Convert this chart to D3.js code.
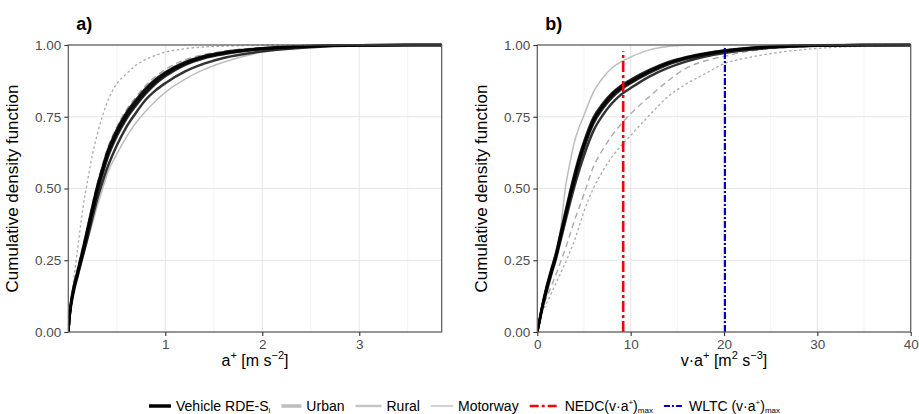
<!DOCTYPE html>
<html>
<head>
<meta charset="utf-8">
<script src="https://cdn.jsdelivr.net/npm/d3@7"></script>
<style>
  body { margin: 0; background: #fff; }
  svg { font-family: "Liberation Sans", Arial, Helvetica, sans-serif; }
</style>
</head>
<body>
<div id="chart"></div>
<script>
// --- datos: panel a (aceleración positiva) ---
const xA = [0, 0.02, 0.05, 0.1, 0.15, 0.2, 0.25, 0.3, 0.35, 0.4, 0.5, 0.6, 0.7, 0.8, 0.9, 1.0, 1.2, 1.4, 1.6, 1.8, 2.0, 2.5, 3.0, 3.85];
const vehA1 = [0, 0.08, 0.145, 0.215, 0.285, 0.36, 0.435, 0.505, 0.565, 0.62, 0.70, 0.76, 0.805, 0.845, 0.877, 0.902, 0.938, 0.96, 0.973, 0.982, 0.988, 0.996, 0.999, 1];
const vehA2 = [0, 0.078, 0.14, 0.21, 0.28, 0.352, 0.425, 0.495, 0.555, 0.61, 0.69, 0.75, 0.797, 0.837, 0.87, 0.896, 0.933, 0.956, 0.97, 0.98, 0.987, 0.996, 0.999, 1];
const vehA3 = [0, 0.076, 0.138, 0.205, 0.274, 0.345, 0.418, 0.487, 0.547, 0.602, 0.682, 0.743, 0.79, 0.831, 0.865, 0.891, 0.93, 0.954, 0.968, 0.978, 0.986, 0.995, 0.999, 1];
const vehA4 = [0, 0.08, 0.147, 0.218, 0.29, 0.365, 0.44, 0.51, 0.57, 0.626, 0.705, 0.765, 0.81, 0.85, 0.881, 0.905, 0.94, 0.962, 0.975, 0.983, 0.989, 0.997, 0.999, 1];
const vehA5 = [0, 0.07, 0.13, 0.2, 0.265, 0.33, 0.40, 0.465, 0.52, 0.57, 0.65, 0.715, 0.765, 0.81, 0.842, 0.867, 0.907, 0.935, 0.955, 0.968, 0.978, 0.992, 0.998, 1];
const urbanA = [0, 0.07, 0.13, 0.2, 0.26, 0.32, 0.38, 0.44, 0.495, 0.55, 0.62, 0.68, 0.73, 0.77, 0.805, 0.835, 0.88, 0.915, 0.94, 0.96, 0.975, 0.992, 0.998, 1];
const ruralA = [0, 0.09, 0.16, 0.23, 0.30, 0.37, 0.45, 0.52, 0.58, 0.635, 0.715, 0.775, 0.82, 0.86, 0.89, 0.915, 0.948, 0.967, 0.978, 0.986, 0.991, 0.998, 1, 1];
const motorwayA = [0, 0.1, 0.17, 0.3, 0.43, 0.53, 0.62, 0.69, 0.75, 0.80, 0.865, 0.90, 0.93, 0.95, 0.964, 0.975, 0.987, 0.993, 0.996, 0.998, 1, 1, 1, 1];

// --- datos: panel b (v·a+) ---
const xB = [0, 0.3, 0.6, 1, 1.5, 2, 2.5, 3, 3.5, 4, 4.5, 5, 6, 7, 8, 9, 10, 12, 14, 16, 18, 20, 22, 25, 30, 35, 40];
const vehB1 = [0, 0.05, 0.1, 0.155, 0.215, 0.27, 0.34, 0.41, 0.48, 0.545, 0.605, 0.655, 0.74, 0.79, 0.828, 0.855, 0.875, 0.91, 0.938, 0.957, 0.97, 0.98, 0.987, 0.994, 0.998, 1, 1];
const vehB2 = [0, 0.05, 0.098, 0.152, 0.21, 0.265, 0.333, 0.402, 0.472, 0.536, 0.596, 0.647, 0.732, 0.783, 0.822, 0.85, 0.87, 0.906, 0.935, 0.955, 0.968, 0.978, 0.986, 0.993, 0.998, 1, 1];
const vehB3 = [0, 0.048, 0.096, 0.15, 0.208, 0.262, 0.33, 0.398, 0.467, 0.53, 0.59, 0.641, 0.726, 0.778, 0.817, 0.846, 0.867, 0.903, 0.932, 0.952, 0.966, 0.977, 0.985, 0.993, 0.998, 1, 1];
const vehB4 = [0, 0.052, 0.102, 0.158, 0.218, 0.275, 0.346, 0.417, 0.488, 0.553, 0.612, 0.662, 0.746, 0.795, 0.832, 0.859, 0.879, 0.913, 0.94, 0.958, 0.971, 0.981, 0.988, 0.995, 0.999, 1, 1];
const vehB5 = [0, 0.045, 0.09, 0.14, 0.2, 0.255, 0.32, 0.385, 0.45, 0.51, 0.565, 0.615, 0.70, 0.755, 0.797, 0.828, 0.85, 0.89, 0.92, 0.943, 0.96, 0.972, 0.981, 0.99, 0.997, 0.999, 1];
const urbanB = [0, 0.045, 0.09, 0.14, 0.2, 0.265, 0.36, 0.5, 0.59, 0.665, 0.715, 0.755, 0.835, 0.885, 0.92, 0.942, 0.958, 0.983, 0.995, 0.999, 1, 1, 1, 1, 1, 1, 1];
const ruralB = [0, 0.06, 0.09, 0.12, 0.16, 0.2, 0.245, 0.29, 0.34, 0.39, 0.435, 0.48, 0.575, 0.635, 0.685, 0.725, 0.76, 0.82, 0.875, 0.92, 0.945, 0.96, 0.975, 0.987, 0.996, 1, 1];
const motorwayB = [0, 0.05, 0.075, 0.1, 0.135, 0.17, 0.205, 0.24, 0.28, 0.32, 0.37, 0.42, 0.5, 0.56, 0.61, 0.65, 0.685, 0.755, 0.82, 0.865, 0.9, 0.935, 0.952, 0.97, 0.988, 0.996, 1];

// líneas de referencia del panel b
const refNames = ['NEDC', 'WLTC'];
const refX = [9.2, 20.1];
const refTop = [0.978, 0.99];

const yTicks = [0, 0.25, 0.5, 0.75, 1];
const xTicksA = [1, 2, 3];
const xTicksB = [0, 10, 20, 30, 40];

// estilos por tipo de línea
const styles = {
    vehicle: { stroke: '#000', width: 2.5, dash: null, opacity: 0.8 },
    urban: { stroke: '#bdbdbd', width: 1.5, dash: null, opacity: 1 },
    rural: { stroke: '#ababab', width: 1.4, dash: '6,4', opacity: 1 },
    motorway: { stroke: '#ababab', width: 1.3, dash: '2.5,2.5', opacity: 1 }
};

const W = 919, H = 414;
const svg = d3.select('#chart').append('svg')
    .attr('width', W).attr('height', H);

const plotTop = 45, plotBottom = 332;

function drawPanel(opts) {
    const x = d3.scaleLinear().domain(opts.domain).range([opts.left, opts.right]);
    const y = d3.scaleLinear().domain([0, 1]).range([plotBottom, plotTop]);
    const g = svg.append('g');

    // rejilla
    g.selectAll('.vminor').data(opts.minor).join('line')
        .attr('x1', d => x(d)).attr('x2', d => x(d))
        .attr('y1', plotTop).attr('y2', plotBottom)
        .attr('stroke', '#f0f0f0').attr('stroke-width', 0.8);
    g.selectAll('.vmajor').data(opts.ticks).join('line')
        .attr('x1', d => x(d)).attr('x2', d => x(d))
        .attr('y1', plotTop).attr('y2', plotBottom)
        .attr('stroke', '#e6e6e6').attr('stroke-width', 1);
    g.selectAll('.hmajor').data(yTicks).join('line')
        .attr('x1', opts.left).attr('x2', opts.right)
        .attr('y1', d => y(d)).attr('y2', d => y(d))
        .attr('stroke', '#e6e6e6').attr('stroke-width', 1);

    const line = d3.line()
        .x((d, i) => x(opts.xs[i]))
        .y(d => y(d))
        .curve(d3.curveMonotoneX);

    const clipId = 'clip-' + opts.id;
    svg.append('clipPath').attr('id', clipId).append('rect')
        .attr('x', opts.left).attr('y', plotTop - 2)
        .attr('width', opts.right - opts.left).attr('height', plotBottom - plotTop + 2);
    const lines = g.append('g').attr('clip-path', `url(#${clipId})`);

    opts.series.forEach(s => {
        const st = styles[s.type];
        lines.append('path')
            .datum(s.values)
            .attr('fill', 'none')
            .attr('stroke', st.stroke)
            .attr('stroke-width', st.width)
            .attr('stroke-dasharray', st.dash)
            .attr('stroke-opacity', st.opacity)
            .attr('d', line);
    });

    if (opts.refs) {
        refNames.forEach((name, i) => {
            const isN = name === 'NEDC';
            lines.append('line')
                .attr('x1', x(refX[i])).attr('x2', x(refX[i]))
                .attr('y1', y(0)).attr('y2', y(refTop[i]))
                .attr('stroke', isN ? '#ff0000' : '#0000cc')
                .attr('stroke-width', isN ? 2.6 : 2.2)
                .attr('stroke-dasharray', isN ? '11,3,3,3' : '7,2,2,2');
        });
    }

    // borde del panel
    g.append('rect')
        .attr('x', opts.left).attr('y', plotTop)
        .attr('width', opts.right - opts.left).attr('height', plotBottom - plotTop)
        .attr('fill', 'none').attr('stroke', '#595959').attr('stroke-width', 1.2);

    // ejes
    const ax = g.append('g')
        .attr('transform', `translate(0,${plotBottom})`)
        .call(d3.axisBottom(x).tickValues(opts.ticks).tickFormat(d3.format('d')).tickSize(4).tickPadding(3));
    const ay = g.append('g')
        .attr('transform', `translate(${opts.left},0)`)
        .call(d3.axisLeft(y).tickValues(yTicks).tickFormat(d3.format('.2f')).tickSize(4).tickPadding(3));
    [ax, ay].forEach(a => {
        a.select('.domain').remove();
        a.selectAll('.tick line').attr('stroke', '#333').attr('stroke-width', 1.1);
        a.selectAll('.tick text').attr('fill', '#4d4d4d')
            .attr('font-size', '13.5px').attr('font-family', '"Liberation Sans", Arial, sans-serif');
    });

    // título eje Y
    svg.append('text')
        .attr('transform', `translate(${opts.left - 50},${(plotTop + plotBottom) / 2}) rotate(-90)`)
        .attr('text-anchor', 'middle')
        .attr('font-size', '17px').attr('fill', '#000')
        .text('Cumulative density function');

    // título eje X con superíndices
    const xt = svg.append('text')
        .attr('x', (opts.left + opts.right) / 2).attr('y', 366)
        .attr('text-anchor', 'middle')
        .attr('font-size', '16px').attr('fill', '#000');
    opts.xtitle.forEach(p => {
        xt.append('tspan').attr('dy', p.dy || 0)
            .attr('font-size', p.small ? '11px' : null)
            .text(p.t);
    });

    // etiqueta del panel
    svg.append('text')
        .attr('x', opts.left + 8).attr('y', 30)
        .attr('font-size', '18px').attr('font-weight', 'bold')
        .text(opts.label);
}

drawPanel({
    id: 'a', label: 'a)',
    left: 68.3, right: 441.7, domain: [0, 3.85],
    ticks: xTicksA, minor: [0.5, 1.5, 2.5, 3.5],
    xs: xA,
    series: [
        { type: 'urban', values: urbanA },
        { type: 'rural', values: ruralA },
        { type: 'motorway', values: motorwayA },
        { type: 'vehicle', values: vehA1 },
        { type: 'vehicle', values: vehA2 },
        { type: 'vehicle', values: vehA3 },
        { type: 'vehicle', values: vehA4 },
        { type: 'vehicle', values: vehA5 }
    ],
    xtitle: [
        { t: 'a' }, { t: '+', dy: -7, small: true },
        { t: ' [m s', dy: 7 }, { t: '−2', dy: -7, small: true }, { t: ']', dy: 7 }
    ]
});

drawPanel({
    id: 'b', label: 'b)',
    left: 537.3, right: 910.7, domain: [0, 40],
    ticks: xTicksB, minor: [5, 15, 25, 35],
    xs: xB,
    refs: true,
    series: [
        { type: 'urban', values: urbanB },
        { type: 'rural', values: ruralB },
        { type: 'motorway', values: motorwayB },
        { type: 'vehicle', values: vehB1 },
        { type: 'vehicle', values: vehB2 },
        { type: 'vehicle', values: vehB3 },
        { type: 'vehicle', values: vehB4 },
        { type: 'vehicle', values: vehB5 }
    ],
    xtitle: [
        { t: 'v·a' }, { t: '+', dy: -7, small: true },
        { t: ' [m', dy: 7 }, { t: '2', dy: -7, small: true },
        { t: ' s', dy: 7 }, { t: '−3', dy: -7, small: true }, { t: ']', dy: 7 }
    ]
});

// --- leyenda ---
const legendItems = [
    { key: { stroke: '#000', width: 3.5, dash: null, len: 22 }, parts: [{ t: 'Vehicle RDE-S' }, { t: 'i', dy: 2, small: true }] },
    { key: { stroke: '#bdbdbd', width: 3.5, dash: null, len: 20 }, parts: [{ t: 'Urban' }] },
    { key: { stroke: '#c4c4c4', width: 2.4, dash: null, len: 26 }, parts: [{ t: 'Rural' }] },
    { key: { stroke: '#bdbdbd', width: 1.4, dash: null, len: 22 }, parts: [{ t: 'Motorway' }] },
    { key: { stroke: '#ff0000', width: 2.6, dash: '9,3,3,3', len: 30 }, parts: [{ t: 'NEDC(v·a' }, { t: '+', dy: -6, small: true }, { t: ')', dy: 6 }, { t: 'max', dy: 2, small: true }] },
    { key: { stroke: '#0000cc', width: 2.2, dash: '6,2,2,2', len: 20 }, parts: [{ t: 'WLTC (v·a' }, { t: '+', dy: -6, small: true }, { t: ')', dy: 6 }, { t: 'max', dy: 2, small: true }] }
];

const legend = svg.append('g');
const ly = 406;
let cx = 0;
legendItems.forEach(item => {
    legend.append('line')
        .attr('x1', cx).attr('x2', cx + item.key.len)
        .attr('y1', ly).attr('y2', ly)
        .attr('stroke', item.key.stroke)
        .attr('stroke-width', item.key.width)
        .attr('stroke-dasharray', item.key.dash);
    const t = legend.append('text')
        .attr('x', cx + item.key.len + 5).attr('y', ly + 5)
        .attr('font-size', '14px').attr('fill', '#000');
    item.parts.forEach(p => {
        t.append('tspan').attr('dy', p.dy || 0)
            .attr('font-size', p.small ? '8px' : null)
            .text(p.t);
    });
    cx += item.key.len + 5 + t.node().getComputedTextLength() + 11;
});
const lw = cx - 11;
legend.attr('transform', `translate(${464.5 - lw / 2},0)`);
</script>
</body>
</html>
